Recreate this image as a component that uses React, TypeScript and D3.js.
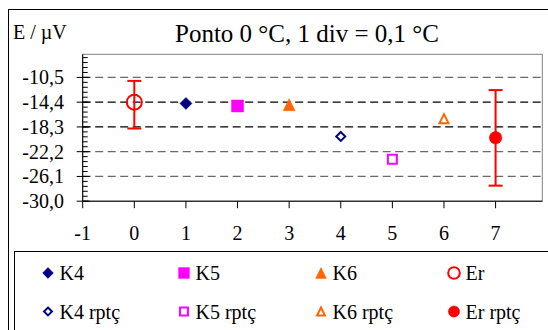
import React from "react";
import * as d3 from "d3";

const seriesNames = ["K4", "K5", "K6", "Er", "K4 rptç", "K5 rptç", "K6 rptç", "Er rptç"];
const seriesX = [1, 2, 3, 0, 4, 5, 6, 7];
const seriesY = [-14.6, -15.0, -14.8, -14.4, -19.8, -23.4, -17.0, -20.0];
const errPlus = [0, 0, 0, 3.35, 0, 0, 0, 7.5];
const errMinus = [0, 0, 0, 4.15, 0, 0, 0, 7.55];
const yTicks = [-30.0, -26.1, -22.2, -18.3, -14.4, -10.5];
const yTickLabels = ["-30,0", "-26,1", "-22,2", "-18,3", "-14,4", "-10,5"];
const xTicks = [-1, 0, 1, 2, 3, 4, 5, 6, 7];
const xTickLabels = ["-1", "0", "1", "2", "3", "4", "5", "6", "7"];
const titleText = "Ponto 0 °C, 1 div = 0,1 °C";
const yAxisTitle = "E / µV";

// styles (not data)
const NAVY = "#000080";
const MAG = "#FF00FF";
const ORG = "#FF6600";
const RED = "#FF0000";
const markerStyle = [
  { shape: "diamond", color: NAVY, filled: true, size: 12 },
  { shape: "square", color: MAG, filled: true, size: 12 },
  { shape: "triangle", color: ORG, filled: true, size: 12 },
  { shape: "circle", color: RED, filled: false, size: 17 },
  { shape: "diamond", color: NAVY, filled: false, size: 11 },
  { shape: "square", color: MAG, filled: false, size: 11 },
  { shape: "triangle", color: ORG, filled: false, size: 11 },
  { shape: "circle", color: RED, filled: true, size: 12.5 },
];
const gridColors = ["#6a6a6a", "#6a6a6a", "#000", "#000", "#6a6a6a"];

const FONT = "'Liberation Serif', 'Times New Roman', serif";

const plotLeft = 82.7;
const plotRight = 542.3;
const plotTop = 54.3;
const plotBottom = 201.2;

const x = d3.scaleLinear().domain([-1, 7.905]).range([plotLeft, plotRight]);
const y = d3.scaleLinear().domain([-30, -6.86]).range([plotBottom, plotTop]);

function shapePath(shape: string, size: number): string {
  const r = size / 2;
  const p = d3.path();
  if (shape === "diamond") {
    p.moveTo(0, -r); p.lineTo(r, 0); p.lineTo(0, r); p.lineTo(-r, 0); p.closePath();
  } else if (shape === "square") {
    p.rect(-r, -r, size, size);
  } else if (shape === "triangle") {
    p.moveTo(0, -r); p.lineTo(r, r); p.lineTo(-r, r); p.closePath();
  } else {
    p.arc(0, 0, r, 0, Math.PI * 2); p.closePath();
  }
  return p.toString();
}

function Marker({ i, cx, cy, scale = 1 }: { i: number; cx: number; cy: number; scale?: number }) {
  const m = markerStyle[i];
  const s = m.size * scale;
  const sw = 2;
  const size = m.filled ? s : s - sw;
  return (
    <path
      transform={`translate(${cx},${cy})`}
      d={shapePath(m.shape, size)}
      fill={m.filled ? m.color : "none"}
      stroke={m.color}
      strokeWidth={m.filled ? 0.5 : sw}
    />
  );
}

export default function App() {
  const minorTicks = d3.range(-30, -6.86, 0.78);
  const gridVals = yTicks.slice(1);
  const legendColX = [48, 184, 321, 454];
  const legendRowY = [273, 311.5];
  return (
    <svg
      width={548}
      height={330}
      style={{ position: "absolute", left: 0, top: 0, background: "#fff" }}
      fontFamily={FONT}
    >
      <rect x={0} y={0} width={548} height={330} fill="#fff" />
      {/* outer chart frame */}
      <rect x={8.5} y={9.5} width={700} height={500} fill="none" stroke="#000" strokeWidth={1} />
      {/* title */}
      <text x={307} y={42} fontSize={25} textAnchor="middle" fill="#000">
        {titleText}
      </text>
      {/* y axis title */}
      <text x={13} y={39} fontSize={20} fill="#000">
        {yAxisTitle}
      </text>
      {/* plot area */}
      <rect x={plotLeft} y={plotTop} width={plotRight - plotLeft} height={plotBottom - plotTop} fill="#fff" stroke="#808080" strokeWidth={1} />
      {/* gridlines */}
      {gridVals.map((v, i) => (
        <line key={"g" + i} x1={plotLeft} x2={plotRight} y1={y(v)} y2={y(v)} stroke={gridColors[i]} strokeWidth={1.2} strokeDasharray="8,4.5" />
      ))}
      {/* y axis */}
      <line x1={plotLeft} x2={plotLeft} y1={plotTop} y2={plotBottom} stroke="#000" strokeWidth={1} />
      {minorTicks.map((v, i) => (
        <line key={"mt" + i} x1={plotLeft} x2={plotLeft + 5} y1={y(v)} y2={y(v)} stroke="#000" strokeWidth={1} />
      ))}
      {yTicks.map((v, i) => (
        <g key={"yt" + i}>
          <line x1={plotLeft - 6} x2={plotLeft + 7} y1={y(v)} y2={y(v)} stroke="#000" strokeWidth={1} />
          <text x={64} y={y(v)} dy="0.35em" fontSize={20} textAnchor="end" fill="#000">
            {yTickLabels[i]}
          </text>
        </g>
      ))}
      {/* x axis */}
      <line x1={plotLeft} x2={plotRight} y1={plotBottom} y2={plotBottom} stroke="#000" strokeWidth={1} />
      {xTicks.map((v, i) => (
        <g key={"xt" + i}>
          <line x1={x(v)} x2={x(v)} y1={plotBottom} y2={plotBottom + 7} stroke="#000" strokeWidth={1} />
          <text x={x(v)} y={240} fontSize={20} textAnchor="middle" fill="#000">
            {xTickLabels[i]}
          </text>
        </g>
      ))}
      {/* error bars */}
      {seriesNames.map((_, i) =>
        errPlus[i] > 0 || errMinus[i] > 0 ? (
          <g key={"e" + i} stroke={RED} strokeWidth={2}>
            <line x1={x(seriesX[i])} x2={x(seriesX[i])} y1={y(seriesY[i] + errPlus[i])} y2={y(seriesY[i] - errMinus[i])} />
            <line x1={x(seriesX[i]) - 7} x2={x(seriesX[i]) + 7} y1={y(seriesY[i] + errPlus[i])} y2={y(seriesY[i] + errPlus[i])} />
            <line x1={x(seriesX[i]) - 7} x2={x(seriesX[i]) + 7} y1={y(seriesY[i] - errMinus[i])} y2={y(seriesY[i] - errMinus[i])} />
          </g>
        ) : null
      )}
      {/* markers */}
      {seriesNames.map((_, i) => (
        <Marker key={"m" + i} i={i} cx={x(seriesX[i])} cy={y(seriesY[i])} />
      ))}
      {/* legend */}
      <rect x={14.5} y={251.5} width={700} height={200} fill="#fff" stroke="#000" strokeWidth={1} />
      {seriesNames.map((name, i) => {
        const col = i % 4;
        const row = Math.floor(i / 4);
        const cx = legendColX[col];
        const cy = legendRowY[row];
        return (
          <g key={"l" + i}>
            <Marker i={i} cx={cx} cy={cy} scale={i === 3 ? 0.8 : 0.9} />
            <text x={cx + 11.5} y={cy + 7} fontSize={20} fill="#000">
              {name}
            </text>
          </g>
        );
      })}
    </svg>
  );
}
